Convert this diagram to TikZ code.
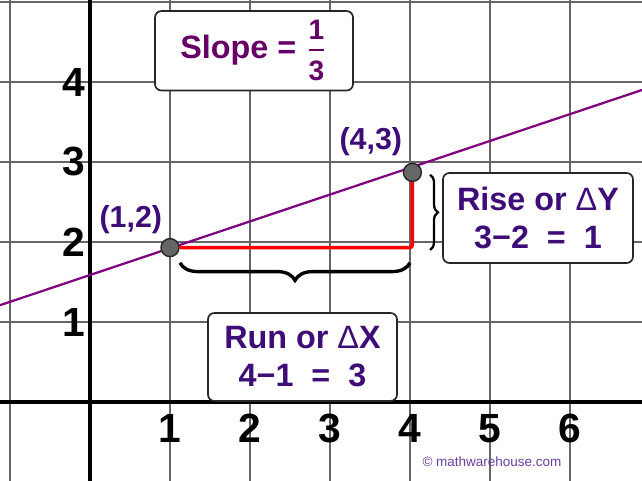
\documentclass[tikz,border=0pt]{standalone}
\usepackage{fontspec}
\setmainfont{Liberation Sans}
\usepackage{amsmath}
\usepackage{xcolor}
\usepackage{tikz}
\usetikzlibrary{decorations.pathreplacing}

\definecolor{slopepurple}{HTML}{660066}
\definecolor{labelindigo}{HTML}{3F0D78}
\definecolor{linepurple}{HTML}{800080}
\definecolor{creditpurple}{HTML}{6A3FA0}

\begin{document}
\begin{tikzpicture}[x=1cm, y=1cm, every node/.style={font=\bfseries}]
    \tikzstyle{gridline} = [black!60, line width=0.55pt]
    \tikzstyle{axis} = [black, line width=1.5pt]
    \tikzstyle{ticklabel} = [font=\fontsize{14.5}{16}\selectfont\bfseries, inner sep=0pt]
    \tikzstyle{infobox} = [rectangle, draw=black!85, line width=0.6pt, rounded corners=0.08cm,
        fill=white, align=center, text=labelindigo, font=\fontsize{11.5}{13.5}\selectfont\bfseries]
    \tikzstyle{dot} = [circle, draw=black!85, fill=black!60, minimum size=0.225cm, inner sep=0pt, line width=0.5pt]
    \tikzstyle{pointlabel} = [text=labelindigo, font=\fontsize{10.8}{12}\selectfont\bfseries]
    \tikzstyle{bracket} = [decorate, black, line width=1.2pt]

    \useasboundingbox (-1.125,-0.9875) rectangle (6.9,5.025);
    \fill[white] (-1.125,-0.9875) rectangle (6.9,5.025);

    % grid and axes
    \draw[gridline] (-1.125,-0.9875) grid (6.9,5.025);
    \draw[axis] (-1.125,0) -- (6.9,0);
    \draw[axis] (0,-0.9875) -- (0,5.025);
    \foreach \k in {1,...,4}
        \node[ticklabel, anchor=east] (ylab\k) at (-0.05,\k) {\k};
    \foreach \k in {1,...,6}
        \node[ticklabel] (xlab\k) at (\k,-0.33) {\k};

    % the line and its two points
    \coordinate (lineL) at (-1.125,1.21);
    \coordinate (lineR) at (6.9,3.90);
    \draw[linepurple, line width=0.8pt] (lineL) -- (lineR);
    \node (P1) [dot] at (1,1.93) {};
    \node (P2) [dot] at (4.03,2.87) {};
    \draw[red, line width=1.3pt, rounded corners=1pt] (P1) -| (P2);

    \node (p1lab) [pointlabel] at (0.51,2.275) {(1,2)};
    \node (p2lab) [pointlabel] at (3.51,3.25) {(4,3)};

    % braces
    \coordinate (runL) at (1.125,1.74);
    \coordinate (runR) at (4.0,1.74);
    \draw[bracket, decoration={brace, mirror, amplitude=0.22cm}] (runL) -- (runR);
    \coordinate (riseT) at (4.25,2.84);
    \coordinate (riseB) at (4.25,1.90);
    \draw[bracket, line width=0.8pt, decoration={brace, amplitude=0.1cm}] (riseT) -- (riseB);

    % boxes
    \node (slope) [infobox, text=slopepurple, minimum width=2.475cm, minimum height=0.9625cm]
        at (2.05,4.39) {Slope = $\genfrac{}{}{0.7pt}{1}%
            {\hbox{\fontsize{10}{12}\selectfont\bfseries\rule[-2.5pt]{0pt}{0pt}1}}%
            {\hbox{\fontsize{10}{12}\selectfont\bfseries\rule{0pt}{10pt}3}}$};
    \node (rise) [infobox, minimum width=2.375cm, minimum height=1.125cm]
        at (5.6,2.3) {Rise or {\mdseries Δ}Y\\3−2\ \ =\ \ 1};
    \node (run) [infobox, minimum width=2.3625cm, minimum height=1.1cm]
        at (2.656,0.5625) {Run or {\mdseries Δ}X\\4−1\ \ =\ \ 3};

    \node (credit) [text=creditpurple, font=\fontsize{4.8}{6}\selectfont\mdseries]
        at (5.025,-0.75) {© mathwarehouse.com};
\end{tikzpicture}
\end{document}
